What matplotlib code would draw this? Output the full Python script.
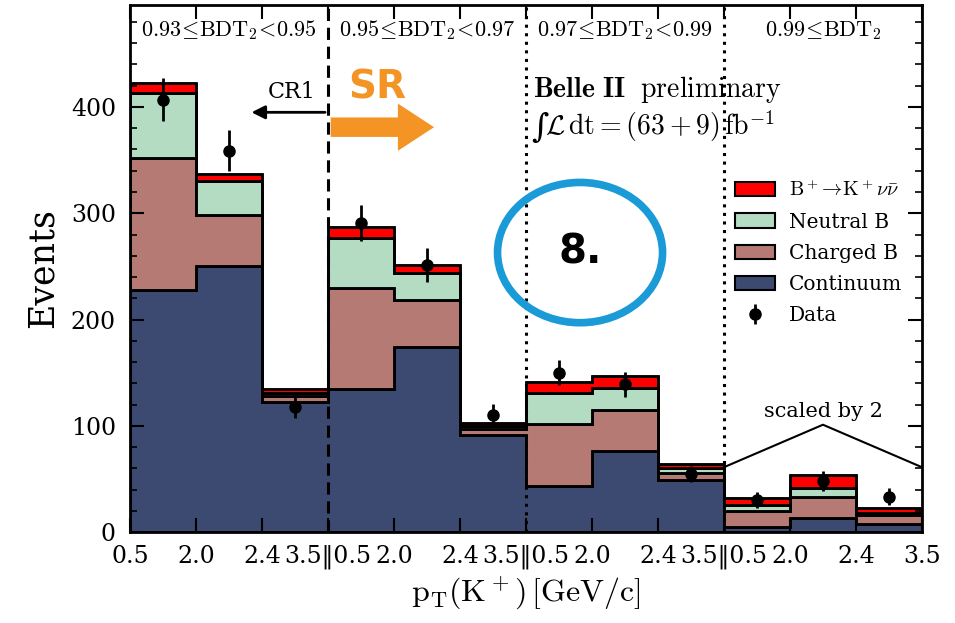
import numpy as np
import matplotlib.pyplot as plt
from matplotlib.patches import Patch, Ellipse

plt.rcParams['font.family'] = 'DejaVu Serif'
plt.rcParams['mathtext.fontset'] = 'cm'

# stacked yields per bin (12 bins = 4 BDT regions x 3 pT bins), last region scaled by 2
continuum = [228, 250, 122, 135, 174, 91, 43, 76, 49, 5, 13, 8]
charged_b = [124, 48, 6, 95, 44, 6, 59, 39, 7, 15, 20, 8]
neutral_b = [61, 32, 3, 47, 26, 3, 29, 21, 4, 5, 8, 2]
signal = [10, 7, 4, 10, 7, 3, 10, 11, 4, 7, 13, 4.5]
data = [407, 359, 118, 291, 251, 110, 150, 139, 55, 30, 48, 33]
data_err = [20, 19, 11, 17, 16, 10.5, 12, 12, 7.5, 7.7, 9.8, 8]

region_labels = [r'$0.93\!\leq\!\mathrm{BDT}_2\!<\!0.95$', r'$0.95\!\leq\!\mathrm{BDT}_2\!<\!0.97$',
                 r'$0.97\!\leq\!\mathrm{BDT}_2\!<\!0.99$', r'$0.99\!\leq\!\mathrm{BDT}_2$']
tick_labels = ['0.5', '2.0', '2.4', '3.5\u20160.5', '2.0', '2.4', '3.5\u20160.5',
               '2.0', '2.4', '3.5\u20160.5', '2.0', '2.4', '3.5']

layers = [(continuum, '#3c4a72', 'Continuum'),
          (charged_b, '#b57a74', 'Charged B'),
          (neutral_b, '#b3dcc3', 'Neutral B'),
          (signal, '#ff0000', r'$\mathrm{B}^+\!\to\!\mathrm{K}^+\nu\bar{\nu}$')]

fig = plt.figure(figsize=(9.55, 6.23), dpi=100)
ax = fig.add_axes([0.136, 0.146, 0.8294, 0.846])

edges = np.arange(13)
centers = edges[:-1] + 0.5
base = np.zeros(12)
for vals, col, lab in layers:
    top = base + np.array(vals)
    ax.stairs(top, edges, baseline=base, fill=True, facecolor=col, edgecolor='black', lw=1.8)
    ax.stairs(top, edges, baseline=base, fill=False, color='black', lw=1.8)
    base = top

eb = ax.errorbar(centers, data, yerr=data_err, fmt='o', color='black', ms=8, elinewidth=2,
                 capsize=0, zorder=5, label='Data')

# region separators
ax.axvline(3, color='black', lw=2.2, ls=(0, (4, 2.2)), zorder=6)
ax.axvline(6, color='black', lw=2.2, ls=(0, (1, 1.8)), zorder=6)
ax.axvline(9, color='black', lw=2.2, ls=(0, (1, 1.8)), zorder=6)

for i, lab in enumerate(region_labels):
    ax.text(1.5 + 3 * i, 472, lab, ha='center', va='center', fontsize=16)

# CR1 / SR
ax.annotate('', xy=(1.8, 395), xytext=(3, 395),
            arrowprops=dict(arrowstyle='-|>', color='black', lw=2, mutation_scale=20))
ax.text(2.45, 414, 'CR1', ha='center', va='center', fontsize=16)
ax.text(3.75, 418, 'SR', ha='center', va='center', fontsize=28, color='#f39424',
        family='DejaVu Sans', weight='bold')
ax.annotate('', xy=(4.65, 381), xytext=(3.0, 381),
            arrowprops=dict(arrowstyle='simple,head_width=1.7,head_length=1.3,tail_width=0.7',
                            color='#f39424', mutation_scale=20, lw=0))

ax.text(6.1, 416, r'$\mathbf{Belle\ II}\ \ \mathrm{preliminary}$', ha='left', va='center', fontsize=20)
ax.text(6.08, 380, '\u222b', ha='left', va='center', fontsize=24, style='italic')
ax.text(6.29, 382, r'$\mathcal{L}\,\mathrm{dt} = (63+9)\,\mathrm{fb}^{-1}$', ha='left', va='center', fontsize=20)

# scaled by 2 marker
ax.plot([9, 10.5, 12], [61, 101, 61], color='black', lw=1.5)
ax.text(10.5, 113, 'scaled by 2', ha='center', va='center', fontsize=15)

# hand-drawn style annotation
ax.add_patch(Ellipse((6.82, 263), 2.5, 132, fill=False, edgecolor='#1a9ad6', lw=5.5, zorder=7))
ax.text(6.82, 263, '8.', ha='center', va='center', fontsize=29, weight='bold',
        family='DejaVu Sans', zorder=7)

handles = [Patch(facecolor=c, edgecolor='black', lw=1.5, label=l) for _, c, l in layers[::-1]]
handles.append(eb)
leg = ax.legend(handles=handles, loc='upper left', bbox_to_anchor=(0.741, 0.703), frameon=False,
                fontsize=14.5, handlelength=2.0, handleheight=0.7, labelspacing=0.6,
                handletextpad=0.7, borderpad=0.4)

ax.set_xlim(0, 12)
ax.set_ylim(0, 496)
ax.set_xticks(edges)
ax.set_xticklabels(tick_labels)
ax.set_yticks([0, 100, 200, 300, 400])
ax.set_yticks(np.arange(0, 496, 20), minor=True)
ax.tick_params(labelsize=17)
ax.tick_params(which='both', direction='in', top=True, right=True)
ax.tick_params(which='major', length=10, width=1.5)
ax.tick_params(which='minor', length=5, width=1.2)
ax.tick_params(axis='x', which='minor', bottom=False, top=False)
ax.tick_params(axis='x', pad=9)
ax.tick_params(axis='y', pad=10)
for s in ax.spines.values():
    s.set_linewidth(2)

ax.set_ylabel('Events', fontsize=25, labelpad=8)
ax.set_xlabel(r'$\mathrm{p_T(K^+)\,[GeV/c]}$', fontsize=23)

fig.savefig('out.png', dpi=100)
